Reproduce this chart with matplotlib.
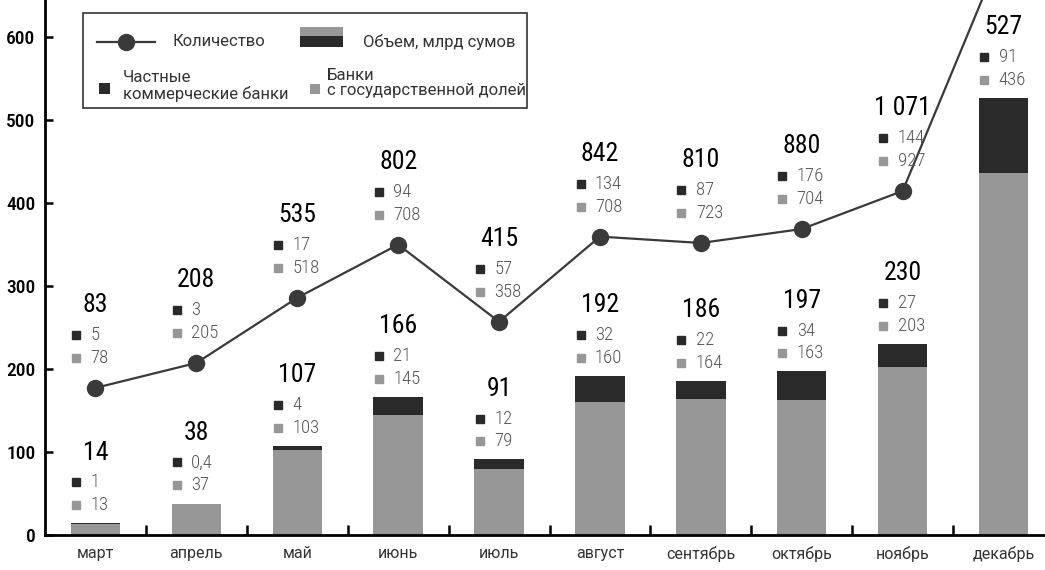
import matplotlib
matplotlib.use("Agg")
import matplotlib.pyplot as plt
from matplotlib import font_manager
from matplotlib.lines import Line2D
from matplotlib.patches import Rectangle
from matplotlib.transforms import ScaledTranslation

months = ["март", "апрель", "май", "июнь", "июль", "август",
          "сентябрь", "октябрь", "ноябрь", "декабрь"]

# volume, bn sums
vol_private = [1, 0.4, 4, 21, 12, 32, 22, 34, 27, 91]
vol_state = [13, 37, 103, 145, 79, 160, 164, 163, 203, 436]
vol_total = [14, 38, 107, 166, 91, 192, 186, 197, 230, 527]

# number of deals (December runs off the top of the chart)
cnt_private = [5, 3, 17, 94, 57, 134, 87, 176, 144, None]
cnt_state = [78, 205, 518, 708, 358, 708, 723, 704, 927, None]
cnt_total = [83, 208, 535, 802, 415, 842, 810, 880, 1071, 2290]

DARK = "#2a2a2a"
GREY = "#979797"
LINE = "#3a3a3a"
W, H = 1045, 570

names = {f.name for f in font_manager.fontManager.ttflist}
NUM_FONT = next((n for n in ["Roboto Condensed", "Liberation Sans Narrow"] if n in names),
                "DejaVu Sans")
TXT_FONT = "Roboto"


def fmt(v):
    if isinstance(v, float) and not v.is_integer():
        return str(v).replace(".", ",")
    return f"{int(v):,}".replace(",", " ")


fig = plt.figure(figsize=(W / 100, H / 100), dpi=100)
ax = fig.add_axes([45 / W, 35 / H, 1009 / W, 535 / H])
ax2 = ax.twinx()

x = range(len(months))
ax.bar(x, vol_state, width=0.49, color=GREY, zorder=2)
ax.bar(x, vol_private, width=0.49, bottom=vol_state, color=DARK, zorder=2)

ax2.plot(x, cnt_total, color=LINE, lw=1.6, marker="o", ms=11.5,
         markerfacecolor=LINE, markeredgecolor=LINE, zorder=3)

ax.set_xlim(-0.5, 9.5)
ax.set_ylim(0, 644.6)
ax2.set_ylim(-655, 2029)


def shifted(axis, dx, dy):
    return axis.transData + ScaledTranslation(dx / 72, dy / 72, fig.dpi_scale_trans)


def value_block(axis, i, y, total, dark, grey, lift):
    # big total, then two small rows with colour keys
    axis.text(i, y, fmt(total), transform=shifted(axis, 0, lift + 38),
              ha="center", va="center", fontsize=18.5, color="black",
              family=NUM_FONT, stretch="condensed")
    for val, col, dy in [(dark, DARK, lift + 16.5), (grey, GREY, lift)]:
        axis.plot([i], [y], marker="s", ms=6.3, color=col, linestyle="none",
                  transform=shifted(axis, -14, dy), clip_on=False)
        axis.text(i, y, fmt(val), transform=shifted(axis, -3.6, dy),
                  ha="left", va="center", fontsize=13.5, color="#555555",
                  family=NUM_FONT, stretch="condensed", weight="light")


for i in x:
    value_block(ax, i, vol_total[i], vol_total[i], vol_private[i], vol_state[i], 13)
    if cnt_private[i] is not None:
        value_block(ax2, i, cnt_total[i], cnt_total[i], cnt_private[i], cnt_state[i], 21.5)

for s in ["top", "right"]:
    ax.spines[s].set_visible(False)
for s in ax2.spines.values():
    s.set_visible(False)
ax2.set_yticks([])
ax.spines["left"].set_linewidth(2)
ax.spines["bottom"].set_linewidth(2)

ax.set_yticks(range(0, 601, 100))
ax.tick_params(axis="y", direction="in", length=6, width=1.8, pad=7,
               labelsize=14, labelcolor="black")
for t in ax.get_yticklabels():
    t.set_family(NUM_FONT)
    t.set_stretch("condensed")
    t.set_weight("medium")

ax.set_xticks(list(x))
ax.set_xticklabels(months, family=TXT_FONT, fontsize=11.5, color="#333333")
ax.set_xticks([i + 0.5 for i in range(9)], minor=True)
ax.tick_params(axis="x", which="major", length=0, pad=8)
ax.tick_params(axis="x", which="minor", direction="in", length=7, width=1.8)


# legend box, drawn in pixel positions of the figure
def fp(px, py):
    return px / W, 1 - py / H


tf = fig.transFigure
fig.add_artist(Rectangle(fp(83, 108), 444 / W, 95 / H, transform=tf,
                         fill=True, facecolor="white", edgecolor="#333333", lw=1.2))
fig.add_artist(Line2D([97 / W, 155 / W], [fp(0, 42)[1]] * 2, transform=tf,
                      color=LINE, lw=1.6))
fig.add_artist(Line2D([126 / W], [fp(0, 42)[1]], transform=tf, color=LINE,
                      marker="o", ms=11.5))
fig.text(*fp(173, 42), "Количество", ha="left", va="center", fontsize=12,
         color="#333333", family=TXT_FONT)
fig.add_artist(Rectangle(fp(300, 36), 43 / W, 9 / H, transform=tf, color=GREY, lw=0))
fig.add_artist(Rectangle(fp(300, 47), 43 / W, 11 / H, transform=tf, color=DARK, lw=0))
fig.text(*fp(363, 42), "Объем, млрд сумов", ha="left", va="center", fontsize=12,
         color="#333333", family=TXT_FONT)
fig.add_artist(Rectangle(fp(99, 94), 11 / W, 11 / H, transform=tf, color=DARK, lw=0))
fig.text(*fp(123, 86), "Частные\nкоммерческие банки", ha="left", va="center",
         fontsize=12, color="#333333", family=TXT_FONT, linespacing=1.0)
fig.add_artist(Rectangle(fp(310, 94), 10 / W, 10 / H, transform=tf, color=GREY, lw=0))
fig.text(*fp(327, 83), "Банки\nс государственной долей", ha="left", va="center",
         fontsize=12, color="#333333", family=TXT_FONT, linespacing=1.0)

fig.savefig("out.png", dpi=100)
